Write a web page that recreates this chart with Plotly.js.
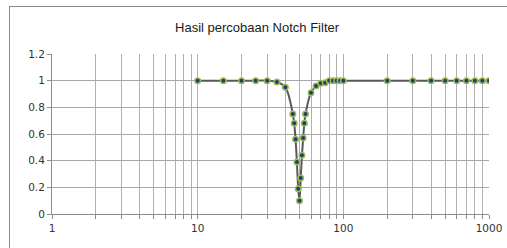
<!DOCTYPE html>
<html>
<head>
<meta charset="utf-8">
<script src="https://cdn.plot.ly/plotly-3.0.1.min.js"></script>
<style>
  html, body { margin: 0; padding: 0; background: #ffffff; width: 507px; height: 248px; overflow: hidden; }
  #frame { position: absolute; left: 9px; top: 6px; width: 520px; height: 270px; border: 1px solid #8c8c8c; box-sizing: border-box; }
  #chart { position: absolute; left: 0; top: 0; width: 507px; height: 248px; }
</style>
</head>
<body>
<div id="frame"></div>
<div id="chart"></div>
<script>
// Frequency (Hz) and gain
var freq = [10, 15, 20, 25, 30, 35, 40, 45, 46, 47, 48, 49, 50, 51, 52, 53, 54, 55, 60, 65, 70, 75, 80, 85, 90, 95, 100, 200, 300, 400, 500, 600, 700, 800, 900, 1000];
var gain = [1, 1, 1, 1, 1, 0.99, 0.95, 0.75, 0.68, 0.56, 0.39, 0.19, 0.10, 0.27, 0.44, 0.57, 0.68, 0.75, 0.91, 0.96, 0.98, 0.985, 1, 1, 1, 1, 1, 1, 1, 1, 1, 1, 1, 1, 1, 1];

var xTickVals = [1,2,3,4,5,6,7,8,9,10,20,30,40,50,60,70,80,90,100,200,300,400,500,600,700,800,900,1000];
var xTickText = ['1','','','','','','','','','10','','','','','','','','','100','','','','','','','','','1000'];
var yTickVals = [0, 0.2, 0.4, 0.6, 0.8, 1, 1.2];
var yTickText = ['0', '0.2', '0.4', '0.6', '0.8', '1', '1.2'];

var chartTitle = 'Hasil percobaan Notch Filter';

var trace = {
  x: freq,
  y: gain,
  type: 'scatter',
  mode: 'lines+markers',
  line: { shape: 'spline', smoothing: 1, color: '#595959', width: 2 },
  marker: { size: 5.5, color: '#1f3f6e', line: { color: '#9bbb59', width: 1.5 } },
  hoverinfo: 'skip'
};

var layout = {
  width: 507,
  height: 248,
  paper_bgcolor: 'rgba(0,0,0,0)',
  plot_bgcolor: 'rgba(0,0,0,0)',
  margin: { l: 52, r: 18, t: 54, b: 34, pad: 0 },
  showlegend: false,
  title: {
    text: chartTitle,
    x: 0.507, xanchor: 'center',
    y: 1 - 27 / 248, yanchor: 'middle',
    font: { family: 'Liberation Sans, Arial, sans-serif', size: 13, color: '#1a1a1a' }
  },
  xaxis: {
    type: 'log',
    range: [0, 3],
    tickmode: 'array',
    tickvals: xTickVals,
    ticktext: xTickText,
    ticklabeloverflow: 'allow',
    showgrid: true,
    gridcolor: '#b0b0b0',
    gridwidth: 1,
    showline: true,
    linecolor: '#8c8c8c',
    linewidth: 1,
    ticks: 'outside',
    ticklen: 4,
    tickcolor: '#8c8c8c',
    zeroline: false,
    tickfont: { family: 'DejaVu Sans, Verdana, sans-serif', size: 10.5, color: '#333333' },
    fixedrange: true
  },
  yaxis: {
    range: [0, 1.2],
    tickmode: 'array',
    tickvals: yTickVals,
    ticktext: yTickText,
    showgrid: true,
    gridcolor: '#a8a8a8',
    gridwidth: 1,
    showline: true,
    linecolor: '#8c8c8c',
    linewidth: 1,
    ticks: 'outside',
    ticklen: 4,
    tickcolor: '#8c8c8c',
    zeroline: false,
    tickfont: { family: 'DejaVu Sans, Verdana, sans-serif', size: 10.5, color: '#333333' },
    fixedrange: true
  }
};

Plotly.newPlot('chart', [trace], layout, { staticPlot: true, displayModeBar: false });
</script>
</body>
</html>
